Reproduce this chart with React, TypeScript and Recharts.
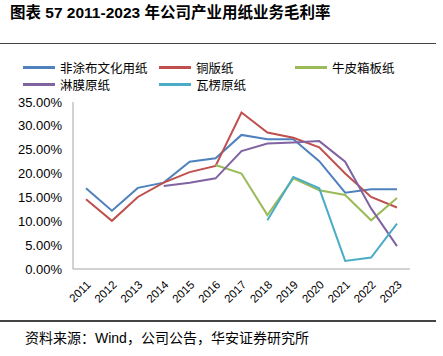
import { LineChart, Line, XAxis, YAxis } from 'recharts'

// years on the x axis
const years = ['2011', '2012', '2013', '2014', '2015', '2016', '2017', '2018', '2019', '2020', '2021', '2022', '2023']

// gross margin, % (null = no data)
const uncoated = [16.9, 12.2, 17.0, 18.1, 22.5, 23.2, 28.1, 27.2, 27.2, 22.6, 16.0, 16.7, 16.7]
const coated = [14.6, 10.1, 15.1, 18.1, 20.3, 21.6, 32.8, 28.6, 27.5, 25.5, 20.0, 15.1, 12.9]
const kraft = [null, null, null, null, null, 21.8, 20.0, 11.3, 19.0, 16.5, 15.5, 10.2, 14.9]
const laminated = [null, null, null, 17.4, 18.1, 19.0, 24.7, 26.3, 26.5, 26.8, 22.5, 12.7, 4.8]
const corrugated = [null, null, null, null, null, null, null, 10.2, 19.3, 16.9, 1.7, 2.4, 9.5]

const yTicks = [0, 5, 10, 15, 20, 25, 30, 35]

const series = [
  { key: 'uncoated', name: '非涂布文化用纸', color: '#4F81BD', values: uncoated },
  { key: 'coated', name: '铜版纸', color: '#C0504D', values: coated },
  { key: 'kraft', name: '牛皮箱板纸', color: '#9BBB59', values: kraft },
  { key: 'laminated', name: '淋膜原纸', color: '#8064A2', values: laminated },
  { key: 'corrugated', name: '瓦楞原纸', color: '#4BACC6', values: corrugated },
]

const data = years.map((year, i) => {
  const row: Record<string, string | number | null> = { year }
  series.forEach((s) => {
    row[s.key] = s.values[i]
  })
  return row
})

const cjk = '"Liberation Sans", "Noto Sans CJK SC", sans-serif'

// legend slots: [left, top] of each entry
const legendPos = [
  [23, 58],
  [159, 58],
  [295, 58],
  [23, 75],
  [159, 75],
]

const YearTick = ({ x, y, payload }: { x?: number; y?: number; payload?: { value: string } }) => (
  <g transform={`translate(${(x ?? 0) - 1},${(y ?? 0) + 2}) rotate(-45)`}>
    <text x={0} y={0} dy="0.8em" textAnchor="end" fill="#000" fontSize={11.5} fontFamily={cjk}>
      {payload?.value}
    </text>
  </g>
)

export default function App() {
  return (
    <div
      style={{
        position: 'fixed',
        left: 0,
        top: 0,
        width: 443,
        height: 356,
        background: '#fff',
        fontFamily: cjk,
      }}
    >
      <div
        style={{
          position: 'absolute',
          left: 10,
          top: 0,
          fontSize: 15.5,
          fontWeight: 'bold',
          color: '#000',
          whiteSpace: 'nowrap',
        }}
      >
        图表 57 2011-2023 年公司产业用纸业务毛利率
      </div>
      <div style={{ position: 'absolute', left: 0, top: 42.5, width: 436, height: 1.5, background: '#444' }} />

      {series.map((s, i) => (
        <div
          key={s.key}
          style={{
            position: 'absolute',
            left: legendPos[i][0],
            top: legendPos[i][1],
            display: 'flex',
            alignItems: 'center',
            fontSize: 12.5,
            color: '#000',
            whiteSpace: 'nowrap',
          }}
        >
          <span style={{ display: 'inline-block', width: 32, height: 3, background: s.color, marginRight: 5 }} />
          {s.name}
        </div>
      ))}

      <div style={{ position: 'absolute', left: 0, top: 0 }}>
        <LineChart width={443} height={356} data={data} margin={{ top: 102, right: 33, bottom: 47, left: 0 }}>
          <XAxis
            dataKey="year"
            axisLine={{ stroke: '#A6A6A6' }}
            tickLine={false}
            tick={<YearTick />}
            interval={0}
            height={40}
            padding={{ left: 13, right: 13 }}
          />
          <YAxis
            domain={[0, 35]}
            ticks={yTicks}
            tickFormatter={(v: number) => `${v.toFixed(2)}%`}
            axisLine={{ stroke: '#A6A6A6' }}
            tickLine={false}
            tickSize={0}
            tickMargin={11}
            width={73}
            tick={{ fill: '#000', fontSize: 13, fontFamily: cjk }}
          />
          {series.map((s) => (
            <Line
              key={s.key}
              dataKey={s.key}
              name={s.name}
              stroke={s.color}
              strokeWidth={2}
              dot={false}
              activeDot={false}
              isAnimationActive={false}
            />
          ))}
        </LineChart>
      </div>

      <div style={{ position: 'absolute', left: 0, top: 320, width: 436, height: 1.5, background: '#444' }} />
      <div
        style={{
          position: 'absolute',
          left: 25,
          top: 327,
          fontSize: 14,
          color: '#000',
          whiteSpace: 'nowrap',
        }}
      >
        资料来源：Wind，公司公告，华安证券研究所
      </div>
    </div>
  )
}
